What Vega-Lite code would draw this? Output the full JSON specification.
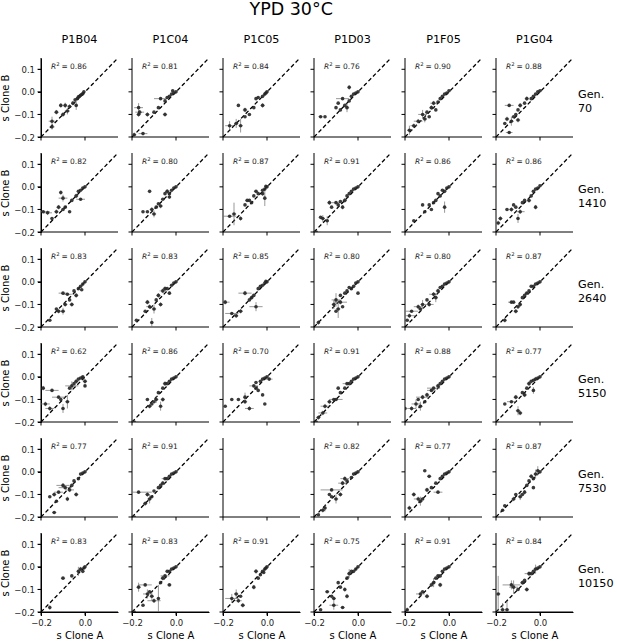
{
"$schema":"https://vega.github.io/schema/vega-lite/v6.json",
"padding":{"left":0,"top":1,"right":0,"bottom":0},
"bounds":"flush",
"title":{"text":"YPD 30°C","fontSize":17.5,"font":"DejaVu Sans","fontWeight":"normal","color":"black","anchor":"middle","offset":15,"dx":-16},
"data":{"values":[
{"c":"P1B04","g":70,"r":0.86},{"c":"P1C04","g":70,"r":0.81},{"c":"P1C05","g":70,"r":0.84},{"c":"P1D03","g":70,"r":0.76},{"c":"P1F05","g":70,"r":0.90},{"c":"P1G04","g":70,"r":0.88},
{"c":"P1B04","g":1410,"r":0.82},{"c":"P1C04","g":1410,"r":0.80},{"c":"P1C05","g":1410,"r":0.87},{"c":"P1D03","g":1410,"r":0.91},{"c":"P1F05","g":1410,"r":0.86},{"c":"P1G04","g":1410,"r":0.86},
{"c":"P1B04","g":2640,"r":0.83},{"c":"P1C04","g":2640,"r":0.83},{"c":"P1C05","g":2640,"r":0.85},{"c":"P1D03","g":2640,"r":0.80},{"c":"P1F05","g":2640,"r":0.80},{"c":"P1G04","g":2640,"r":0.87},
{"c":"P1B04","g":5150,"r":0.62},{"c":"P1C04","g":5150,"r":0.86},{"c":"P1C05","g":5150,"r":0.70},{"c":"P1D03","g":5150,"r":0.91},{"c":"P1F05","g":5150,"r":0.88},{"c":"P1G04","g":5150,"r":0.77},
{"c":"P1B04","g":7530,"r":0.77},{"c":"P1C04","g":7530,"r":0.91},{"c":"P1C05","g":7530},{"c":"P1D03","g":7530,"r":0.82},{"c":"P1F05","g":7530,"r":0.77},{"c":"P1G04","g":7530,"r":0.87},
{"c":"P1B04","g":10150,"r":0.83},{"c":"P1C04","g":10150,"r":0.83},{"c":"P1C05","g":10150,"r":0.91},{"c":"P1D03","g":10150,"r":0.75},{"c":"P1F05","g":10150,"r":0.91},{"c":"P1G04","g":10150,"r":0.84},

{"c":"P1B04","g":70,"a":-0.005,"b":0},{"c":"P1B04","g":70,"a":-0.01,"b":-0.008},{"c":"P1B04","g":70,"a":-0.015,"b":-0.012},{"c":"P1B04","g":70,"a":-0.02,"b":-0.015},{"c":"P1B04","g":70,"a":-0.025,"b":-0.02},{"c":"P1B04","g":70,"a":-0.03,"b":-0.022},{"c":"P1B04","g":70,"a":-0.035,"b":-0.03,"ea":0.006,"eb":0.006},{"c":"P1B04","g":70,"a":-0.045,"b":-0.035},{"c":"P1B04","g":70,"a":-0.055,"b":-0.05,"ea":0.008,"eb":0.01},{"c":"P1B04","g":70,"a":-0.07,"b":-0.065,"ea":0.01,"eb":0.01},{"c":"P1B04","g":70,"a":-0.09,"b":-0.06,"ea":0.01,"eb":0.012},{"c":"P1B04","g":70,"a":-0.11,"b":-0.06,"ea":0.008,"eb":0.01},{"c":"P1B04","g":70,"a":-0.08,"b":-0.085,"ea":0.012,"eb":0.015},{"c":"P1B04","g":70,"a":-0.1,"b":-0.1,"ea":0.01,"eb":0.01},{"c":"P1B04","g":70,"a":-0.13,"b":-0.09,"ea":0.01,"eb":0.01},{"c":"P1B04","g":70,"a":-0.15,"b":-0.13,"ea":0.015,"eb":0.02},{"c":"P1B04","g":70,"a":-0.15,"b":-0.155,"ea":0.012,"eb":0.012},{"c":"P1B04","g":70,"a":-0.04,"b":-0.06,"ea":0.006,"eb":0.02},
{"c":"P1C04","g":70,"a":0,"b":0},{"c":"P1C04","g":70,"a":-0.01,"b":-0.005},{"c":"P1C04","g":70,"a":-0.015,"b":0.005},{"c":"P1C04","g":70,"a":-0.02,"b":-0.01},{"c":"P1C04","g":70,"a":-0.03,"b":-0.02},{"c":"P1C04","g":70,"a":-0.04,"b":-0.025},{"c":"P1C04","g":70,"a":-0.05,"b":-0.04},{"c":"P1C04","g":70,"a":-0.07,"b":-0.03,"ea":0.03,"eb":0.005},{"c":"P1C04","g":70,"a":-0.08,"b":-0.07},{"c":"P1C04","g":70,"a":-0.1,"b":-0.09},{"c":"P1C04","g":70,"a":-0.05,"b":-0.1,"ea":0.01,"eb":0.01},{"c":"P1C04","g":70,"a":-0.17,"b":-0.07,"ea":0.02,"eb":0.02},{"c":"P1C04","g":70,"a":-0.165,"b":-0.09,"ea":0.02,"eb":0.01},{"c":"P1C04","g":70,"a":-0.17,"b":-0.1,"ea":0.01,"eb":0.01},{"c":"P1C04","g":70,"a":-0.13,"b":-0.1,"ea":0.01,"eb":0.01},{"c":"P1C04","g":70,"a":-0.19,"b":-0.19,"ea":0.01,"eb":0.01},{"c":"P1C04","g":70,"a":-0.15,"b":-0.185,"ea":0.02,"eb":0.005},
{"c":"P1C05","g":70,"a":0,"b":0},{"c":"P1C05","g":70,"a":-0.005,"b":-0.005},{"c":"P1C05","g":70,"a":-0.01,"b":-0.01},{"c":"P1C05","g":70,"a":-0.02,"b":-0.02},{"c":"P1C05","g":70,"a":-0.04,"b":-0.025},{"c":"P1C05","g":70,"a":-0.05,"b":-0.03},{"c":"P1C05","g":70,"a":-0.06,"b":-0.07},{"c":"P1C05","g":70,"a":-0.08,"b":-0.1},{"c":"P1C05","g":70,"a":-0.1,"b":-0.11},{"c":"P1C05","g":70,"a":-0.13,"b":-0.06},{"c":"P1C05","g":70,"a":-0.17,"b":-0.15,"ea":0.02,"eb":0.02},{"c":"P1C05","g":70,"a":-0.14,"b":-0.14,"ea":0.01,"eb":0.02},{"c":"P1C05","g":70,"a":-0.12,"b":-0.15,"ea":0.01,"eb":0.03},{"c":"P1C05","g":70,"a":-0.02,"b":-0.06,"ea":0.01,"eb":0.01},{"c":"P1C05","g":70,"a":-0.1,"b":-0.08,"ea":0.01,"eb":0.01},
{"c":"P1D03","g":70,"a":0,"b":0},{"c":"P1D03","g":70,"a":-0.01,"b":-0.005},{"c":"P1D03","g":70,"a":-0.02,"b":-0.01},{"c":"P1D03","g":70,"a":-0.03,"b":-0.02},{"c":"P1D03","g":70,"a":-0.04,"b":-0.04},{"c":"P1D03","g":70,"a":-0.04,"b":0.02,"ea":0.005,"eb":0.01},{"c":"P1D03","g":70,"a":-0.17,"b":-0.11,"ea":0.01,"eb":0.005},{"c":"P1D03","g":70,"a":-0.15,"b":-0.11},{"c":"P1D03","g":70,"a":-0.1,"b":-0.07},{"c":"P1D03","g":70,"a":-0.08,"b":-0.08},{"c":"P1D03","g":70,"a":-0.06,"b":-0.06},{"c":"P1D03","g":70,"a":-0.07,"b":-0.03,"ea":0.03,"eb":0.005},{"c":"P1D03","g":70,"a":-0.05,"b":-0.07,"ea":0.01,"eb":0.02},{"c":"P1D03","g":70,"a":-0.09,"b":-0.05},
{"c":"P1F05","g":70,"a":0,"b":0.005},{"c":"P1F05","g":70,"a":-0.01,"b":-0.005},{"c":"P1F05","g":70,"a":-0.02,"b":-0.01},{"c":"P1F05","g":70,"a":-0.03,"b":-0.02},{"c":"P1F05","g":70,"a":-0.04,"b":-0.03},{"c":"P1F05","g":70,"a":-0.05,"b":-0.045},{"c":"P1F05","g":70,"a":-0.06,"b":-0.08},{"c":"P1F05","g":70,"a":-0.07,"b":-0.05,"ea":0.015,"eb":0.01},{"c":"P1F05","g":70,"a":-0.08,"b":-0.07,"ea":0.01,"eb":0.01},{"c":"P1F05","g":70,"a":-0.09,"b":-0.11},{"c":"P1F05","g":70,"a":-0.1,"b":-0.09},{"c":"P1F05","g":70,"a":-0.11,"b":-0.12,"ea":0.01,"eb":0.015},{"c":"P1F05","g":70,"a":-0.12,"b":-0.1,"ea":0.02,"eb":0.02},{"c":"P1F05","g":70,"a":-0.14,"b":-0.13,"ea":0.02,"eb":0.01},{"c":"P1F05","g":70,"a":-0.16,"b":-0.15,"ea":0.015,"eb":0.01},{"c":"P1F05","g":70,"a":-0.18,"b":-0.17,"ea":0.01,"eb":0.02},
{"c":"P1G04","g":70,"a":0,"b":0.005},{"c":"P1G04","g":70,"a":-0.01,"b":0},{"c":"P1G04","g":70,"a":-0.02,"b":-0.01},{"c":"P1G04","g":70,"a":-0.03,"b":-0.02},{"c":"P1G04","g":70,"a":-0.04,"b":-0.03},{"c":"P1G04","g":70,"a":-0.06,"b":-0.03,"ea":0.01,"eb":0.01},{"c":"P1G04","g":70,"a":-0.07,"b":-0.05},{"c":"P1G04","g":70,"a":-0.09,"b":-0.06,"ea":0.01,"eb":0.01},{"c":"P1G04","g":70,"a":-0.1,"b":-0.08},{"c":"P1G04","g":70,"a":-0.11,"b":-0.1},{"c":"P1G04","g":70,"a":-0.12,"b":-0.11},{"c":"P1G04","g":70,"a":-0.1,"b":-0.125,"ea":0.01,"eb":0.01},{"c":"P1G04","g":70,"a":-0.14,"b":-0.06,"ea":0.02,"eb":0.005},{"c":"P1G04","g":70,"a":-0.15,"b":-0.12,"ea":0.01,"eb":0.01},{"c":"P1G04","g":70,"a":-0.13,"b":-0.13,"ea":0.01,"eb":0.02},{"c":"P1G04","g":70,"a":-0.16,"b":-0.14},{"c":"P1G04","g":70,"a":-0.14,"b":-0.18,"ea":0.015,"eb":0.005},

{"c":"P1B04","g":1410,"a":0,"b":0},{"c":"P1B04","g":1410,"a":-0.01,"b":-0.005},{"c":"P1B04","g":1410,"a":-0.02,"b":-0.015},{"c":"P1B04","g":1410,"a":-0.03,"b":-0.02},{"c":"P1B04","g":1410,"a":-0.04,"b":-0.04,"ea":0.01,"eb":0.01},{"c":"P1B04","g":1410,"a":-0.02,"b":-0.055,"ea":0.02,"eb":0.005},{"c":"P1B04","g":1410,"a":-0.06,"b":-0.06},{"c":"P1B04","g":1410,"a":-0.07,"b":-0.11},{"c":"P1B04","g":1410,"a":-0.09,"b":-0.09},{"c":"P1B04","g":1410,"a":-0.1,"b":-0.1},{"c":"P1B04","g":1410,"a":-0.1,"b":-0.05,"ea":0.02,"eb":0.015},{"c":"P1B04","g":1410,"a":-0.11,"b":-0.025,"ea":0.003,"eb":0.01},{"c":"P1B04","g":1410,"a":-0.12,"b":-0.09,"ea":0.01,"eb":0.01},{"c":"P1B04","g":1410,"a":-0.13,"b":-0.11,"ea":0.01,"eb":0.01},{"c":"P1B04","g":1410,"a":-0.15,"b":-0.14},{"c":"P1B04","g":1410,"a":-0.17,"b":-0.115,"ea":0.02,"eb":0.01},{"c":"P1B04","g":1410,"a":-0.19,"b":-0.11,"ea":0.03,"eb":0.005},
{"c":"P1C04","g":1410,"a":0,"b":0},{"c":"P1C04","g":1410,"a":-0.01,"b":-0.005},{"c":"P1C04","g":1410,"a":-0.02,"b":-0.015},{"c":"P1C04","g":1410,"a":-0.03,"b":-0.03},{"c":"P1C04","g":1410,"a":-0.04,"b":-0.02,"ea":0.01,"eb":0.01},{"c":"P1C04","g":1410,"a":-0.03,"b":-0.045,"ea":0.008,"eb":0.008},{"c":"P1C04","g":1410,"a":-0.05,"b":-0.03},{"c":"P1C04","g":1410,"a":-0.06,"b":-0.055},{"c":"P1C04","g":1410,"a":-0.07,"b":-0.085,"ea":0.01,"eb":0.01},{"c":"P1C04","g":1410,"a":-0.08,"b":-0.075},{"c":"P1C04","g":1410,"a":-0.09,"b":-0.09},{"c":"P1C04","g":1410,"a":-0.12,"b":-0.02},{"c":"P1C04","g":1410,"a":-0.1,"b":-0.12,"ea":0.01,"eb":0.015},{"c":"P1C04","g":1410,"a":-0.11,"b":-0.1,"ea":0.01,"eb":0.01},{"c":"P1C04","g":1410,"a":-0.13,"b":-0.11},{"c":"P1C04","g":1410,"a":-0.15,"b":-0.11},
{"c":"P1C05","g":1410,"a":0,"b":0},{"c":"P1C05","g":1410,"a":-0.005,"b":0.003},{"c":"P1C05","g":1410,"a":-0.01,"b":-0.01},{"c":"P1C05","g":1410,"a":-0.02,"b":-0.015},{"c":"P1C05","g":1410,"a":-0.02,"b":-0.03,"ea":0.005,"eb":0.01},{"c":"P1C05","g":1410,"a":-0.01,"b":-0.05,"ea":0.003,"eb":0.035},{"c":"P1C05","g":1410,"a":-0.04,"b":-0.03},{"c":"P1C05","g":1410,"a":-0.05,"b":-0.02,"ea":0.01,"eb":0.005},{"c":"P1C05","g":1410,"a":-0.06,"b":-0.04},{"c":"P1C05","g":1410,"a":-0.07,"b":-0.07},{"c":"P1C05","g":1410,"a":-0.08,"b":-0.06},{"c":"P1C05","g":1410,"a":-0.09,"b":-0.06,"ea":0.01,"eb":0.005},{"c":"P1C05","g":1410,"a":-0.1,"b":-0.08},{"c":"P1C05","g":1410,"a":-0.12,"b":-0.14,"ea":0.005,"eb":0.01},{"c":"P1C05","g":1410,"a":-0.15,"b":-0.12,"ea":0.01,"eb":0.05},{"c":"P1C05","g":1410,"a":-0.17,"b":-0.13,"ea":0.03,"eb":0.005},
{"c":"P1D03","g":1410,"a":0,"b":0},{"c":"P1D03","g":1410,"a":-0.01,"b":-0.005},{"c":"P1D03","g":1410,"a":-0.02,"b":-0.01},{"c":"P1D03","g":1410,"a":-0.03,"b":-0.02},{"c":"P1D03","g":1410,"a":-0.04,"b":-0.03},{"c":"P1D03","g":1410,"a":-0.05,"b":-0.04},{"c":"P1D03","g":1410,"a":-0.06,"b":-0.06,"ea":0.01,"eb":0.01},{"c":"P1D03","g":1410,"a":-0.07,"b":-0.09,"ea":0.005,"eb":0.01},{"c":"P1D03","g":1410,"a":-0.08,"b":-0.065},{"c":"P1D03","g":1410,"a":-0.09,"b":-0.08},{"c":"P1D03","g":1410,"a":-0.1,"b":-0.07,"ea":0.02,"eb":0.005},{"c":"P1D03","g":1410,"a":-0.13,"b":-0.07,"ea":0.01,"eb":0.01},{"c":"P1D03","g":1410,"a":-0.12,"b":-0.09},{"c":"P1D03","g":1410,"a":-0.14,"b":-0.15,"ea":0.005,"eb":0.02},{"c":"P1D03","g":1410,"a":-0.17,"b":-0.135},{"c":"P1D03","g":1410,"a":-0.16,"b":-0.14,"ea":0.01,"eb":0.015},{"c":"P1D03","g":1410,"a":-0.19,"b":-0.2,"ea":0.02,"eb":0.005},
{"c":"P1F05","g":1410,"a":0,"b":0},{"c":"P1F05","g":1410,"a":-0.01,"b":-0.005},{"c":"P1F05","g":1410,"a":-0.02,"b":-0.02},{"c":"P1F05","g":1410,"a":-0.03,"b":-0.015},{"c":"P1F05","g":1410,"a":-0.04,"b":-0.04,"ea":0.005,"eb":0.005},{"c":"P1F05","g":1410,"a":-0.05,"b":-0.03},{"c":"P1F05","g":1410,"a":-0.06,"b":-0.06},{"c":"P1F05","g":1410,"a":-0.07,"b":-0.07},{"c":"P1F05","g":1410,"a":-0.02,"b":-0.09,"ea":0.003,"eb":0.025},{"c":"P1F05","g":1410,"a":-0.08,"b":-0.1},{"c":"P1F05","g":1410,"a":-0.09,"b":-0.08},{"c":"P1F05","g":1410,"a":-0.11,"b":-0.11},{"c":"P1F05","g":1410,"a":-0.12,"b":-0.08},{"c":"P1F05","g":1410,"a":-0.16,"b":-0.15},
{"c":"P1G04","g":1410,"a":0,"b":0.005},{"c":"P1G04","g":1410,"a":-0.01,"b":-0.005},{"c":"P1G04","g":1410,"a":-0.02,"b":-0.01},{"c":"P1G04","g":1410,"a":-0.03,"b":-0.02},{"c":"P1G04","g":1410,"a":-0.04,"b":-0.04},{"c":"P1G04","g":1410,"a":-0.05,"b":-0.06,"ea":0.01,"eb":0.01},{"c":"P1G04","g":1410,"a":-0.02,"b":-0.09,"ea":0.005,"eb":0.01},{"c":"P1G04","g":1410,"a":-0.07,"b":-0.06},{"c":"P1G04","g":1410,"a":-0.08,"b":-0.07},{"c":"P1G04","g":1410,"a":-0.09,"b":-0.11,"ea":0.02,"eb":0.01},{"c":"P1G04","g":1410,"a":-0.1,"b":-0.14,"ea":0.005,"eb":0.02},{"c":"P1G04","g":1410,"a":-0.11,"b":-0.09},{"c":"P1G04","g":1410,"a":-0.12,"b":-0.08},{"c":"P1G04","g":1410,"a":-0.13,"b":-0.1,"ea":0.01,"eb":0.01},{"c":"P1G04","g":1410,"a":-0.15,"b":-0.1},{"c":"P1G04","g":1410,"a":-0.18,"b":-0.14,"ea":0.01,"eb":0.01},{"c":"P1G04","g":1410,"a":-0.19,"b":-0.16,"ea":0.01,"eb":0.01},

{"c":"P1B04","g":2640,"a":0,"b":0},{"c":"P1B04","g":2640,"a":-0.01,"b":-0.01},{"c":"P1B04","g":2640,"a":-0.02,"b":-0.02},{"c":"P1B04","g":2640,"a":-0.015,"b":-0.035},{"c":"P1B04","g":2640,"a":-0.03,"b":-0.03},{"c":"P1B04","g":2640,"a":-0.04,"b":-0.06,"ea":0.01,"eb":0.01},{"c":"P1B04","g":2640,"a":-0.05,"b":-0.04},{"c":"P1B04","g":2640,"a":-0.07,"b":-0.08},{"c":"P1B04","g":2640,"a":-0.06,"b":-0.1,"ea":0.01,"eb":0.01},{"c":"P1B04","g":2640,"a":-0.08,"b":-0.055,"ea":0.02,"eb":0.005},{"c":"P1B04","g":2640,"a":-0.1,"b":-0.05,"ea":0.02,"eb":0.005},{"c":"P1B04","g":2640,"a":-0.09,"b":-0.1,"ea":0.01,"eb":0.01},{"c":"P1B04","g":2640,"a":-0.1,"b":-0.13,"ea":0.01,"eb":0.015},{"c":"P1B04","g":2640,"a":-0.12,"b":-0.13,"ea":0.01,"eb":0.01},{"c":"P1B04","g":2640,"a":-0.13,"b":-0.12},{"c":"P1B04","g":2640,"a":-0.16,"b":-0.17},
{"c":"P1C04","g":2640,"a":0,"b":0},{"c":"P1C04","g":2640,"a":-0.01,"b":-0.005},{"c":"P1C04","g":2640,"a":-0.02,"b":-0.015},{"c":"P1C04","g":2640,"a":-0.03,"b":-0.05,"ea":0.008,"eb":0.008},{"c":"P1C04","g":2640,"a":-0.04,"b":-0.03},{"c":"P1C04","g":2640,"a":-0.05,"b":-0.03,"ea":0.01,"eb":0.01},{"c":"P1C04","g":2640,"a":-0.06,"b":-0.04,"ea":0.015,"eb":0.01},{"c":"P1C04","g":2640,"a":-0.08,"b":-0.06,"ea":0.01,"eb":0.01},{"c":"P1C04","g":2640,"a":-0.09,"b":-0.08},{"c":"P1C04","g":2640,"a":-0.07,"b":-0.1,"ea":0.01,"eb":0.01},{"c":"P1C04","g":2640,"a":-0.1,"b":-0.12,"ea":0.01,"eb":0.02},{"c":"P1C04","g":2640,"a":-0.12,"b":-0.11,"ea":0.015,"eb":0.01},{"c":"P1C04","g":2640,"a":-0.13,"b":-0.09,"ea":0.01,"eb":0.01},{"c":"P1C04","g":2640,"a":-0.14,"b":-0.13},{"c":"P1C04","g":2640,"a":-0.11,"b":-0.18,"ea":0.002,"eb":0.02},{"c":"P1C04","g":2640,"a":-0.18,"b":-0.17},
{"c":"P1C05","g":2640,"a":0,"b":0},{"c":"P1C05","g":2640,"a":-0.005,"b":0.003},{"c":"P1C05","g":2640,"a":-0.01,"b":-0.005},{"c":"P1C05","g":2640,"a":-0.02,"b":-0.015},{"c":"P1C05","g":2640,"a":-0.03,"b":-0.02},{"c":"P1C05","g":2640,"a":-0.04,"b":-0.03},{"c":"P1C05","g":2640,"a":-0.06,"b":-0.06},{"c":"P1C05","g":2640,"a":-0.07,"b":-0.07,"ea":0.01,"eb":0.01},{"c":"P1C05","g":2640,"a":-0.08,"b":-0.08},{"c":"P1C05","g":2640,"a":-0.1,"b":-0.05,"ea":0.03,"eb":0.01},{"c":"P1C05","g":2640,"a":-0.05,"b":-0.11,"ea":0.03,"eb":0.02},{"c":"P1C05","g":2640,"a":-0.12,"b":-0.13,"ea":0.01,"eb":0.01},{"c":"P1C05","g":2640,"a":-0.14,"b":-0.15,"ea":0.01,"eb":0.01},{"c":"P1C05","g":2640,"a":-0.16,"b":-0.14,"ea":0.03,"eb":0.005},{"c":"P1C05","g":2640,"a":-0.19,"b":-0.09,"ea":0.02,"eb":0.01},
{"c":"P1D03","g":2640,"a":0,"b":0},{"c":"P1D03","g":2640,"a":-0.01,"b":-0.005},{"c":"P1D03","g":2640,"a":-0.02,"b":-0.02},{"c":"P1D03","g":2640,"a":-0.03,"b":-0.03},{"c":"P1D03","g":2640,"a":-0.04,"b":-0.025},{"c":"P1D03","g":2640,"a":-0.05,"b":-0.04},{"c":"P1D03","g":2640,"a":-0.06,"b":-0.05},{"c":"P1D03","g":2640,"a":0,"b":-0.05},{"c":"P1D03","g":2640,"a":-0.08,"b":-0.06},{"c":"P1D03","g":2640,"a":-0.07,"b":-0.11},{"c":"P1D03","g":2640,"a":-0.1,"b":-0.08,"ea":0.02,"eb":0.03},{"c":"P1D03","g":2640,"a":-0.11,"b":-0.1,"ea":0.01,"eb":0.02},{"c":"P1D03","g":2640,"a":-0.08,"b":-0.09,"ea":0.03,"eb":0.01},{"c":"P1D03","g":2640,"a":-0.09,"b":-0.12,"ea":0.01,"eb":0.04},{"c":"P1D03","g":2640,"a":-0.1,"b":-0.13},{"c":"P1D03","g":2640,"a":-0.18,"b":-0.18,"ea":0.005,"eb":0.01},
{"c":"P1F05","g":2640,"a":0,"b":0},{"c":"P1F05","g":2640,"a":-0.01,"b":-0.005},{"c":"P1F05","g":2640,"a":-0.02,"b":-0.01},{"c":"P1F05","g":2640,"a":-0.03,"b":-0.02},{"c":"P1F05","g":2640,"a":-0.04,"b":-0.025},{"c":"P1F05","g":2640,"a":-0.05,"b":-0.04,"ea":0.01,"eb":0.01},{"c":"P1F05","g":2640,"a":-0.06,"b":-0.07,"ea":0.01,"eb":0.02},{"c":"P1F05","g":2640,"a":-0.07,"b":-0.055,"ea":0.02,"eb":0.01},{"c":"P1F05","g":2640,"a":-0.09,"b":-0.1,"ea":0.02,"eb":0.01},{"c":"P1F05","g":2640,"a":-0.1,"b":-0.08},{"c":"P1F05","g":2640,"a":-0.12,"b":-0.1,"ea":0.01,"eb":0.02},{"c":"P1F05","g":2640,"a":-0.13,"b":-0.12,"ea":0.01,"eb":0.01},{"c":"P1F05","g":2640,"a":-0.14,"b":-0.11,"ea":0.02,"eb":0.01},{"c":"P1F05","g":2640,"a":-0.17,"b":-0.13,"ea":0.03,"eb":0.005},{"c":"P1F05","g":2640,"a":-0.18,"b":-0.15,"ea":0.03,"eb":0.01},{"c":"P1F05","g":2640,"a":-0.19,"b":-0.17},
{"c":"P1G04","g":2640,"a":0,"b":0},{"c":"P1G04","g":2640,"a":-0.01,"b":-0.005},{"c":"P1G04","g":2640,"a":-0.02,"b":-0.01},{"c":"P1G04","g":2640,"a":-0.03,"b":-0.02},{"c":"P1G04","g":2640,"a":-0.04,"b":-0.02},{"c":"P1G04","g":2640,"a":-0.05,"b":-0.04},{"c":"P1G04","g":2640,"a":-0.06,"b":-0.05,"ea":0.01,"eb":0.005},{"c":"P1G04","g":2640,"a":-0.07,"b":-0.06},{"c":"P1G04","g":2640,"a":-0.08,"b":-0.07},{"c":"P1G04","g":2640,"a":-0.09,"b":-0.1,"ea":0.005,"eb":0.01},{"c":"P1G04","g":2640,"a":-0.1,"b":-0.11,"ea":0.01,"eb":0.01},{"c":"P1G04","g":2640,"a":-0.11,"b":-0.13,"ea":0.01,"eb":0.01},{"c":"P1G04","g":2640,"a":-0.12,"b":-0.09},{"c":"P1G04","g":2640,"a":-0.13,"b":-0.09,"ea":0.015,"eb":0.005},{"c":"P1G04","g":2640,"a":-0.16,"b":-0.17,"ea":0.005,"eb":0.01},

{"c":"P1B04","g":5150,"a":0,"b":-0.02,"ea":0.01,"eb":0.01},{"c":"P1B04","g":5150,"a":-0.01,"b":0},{"c":"P1B04","g":5150,"a":-0.01,"b":-0.005},{"c":"P1B04","g":5150,"a":-0.02,"b":-0.005},{"c":"P1B04","g":5150,"a":-0.03,"b":-0.01},{"c":"P1B04","g":5150,"a":-0.04,"b":-0.02,"ea":0.01,"eb":0.01},{"c":"P1B04","g":5150,"a":-0.05,"b":-0.03},{"c":"P1B04","g":5150,"a":0,"b":-0.04,"ea":0.003,"eb":0.005},{"c":"P1B04","g":5150,"a":-0.06,"b":-0.04,"ea":0.03,"eb":0.02},{"c":"P1B04","g":5150,"a":-0.07,"b":-0.05},{"c":"P1B04","g":5150,"a":-0.08,"b":-0.11,"ea":0.01,"eb":0.03},{"c":"P1B04","g":5150,"a":-0.1,"b":-0.14,"ea":0.005,"eb":0.02},{"c":"P1B04","g":5150,"a":-0.11,"b":-0.1},{"c":"P1B04","g":5150,"a":-0.12,"b":-0.09,"ea":0.03,"eb":0.005},{"c":"P1B04","g":5150,"a":-0.15,"b":-0.06,"ea":0.03,"eb":0.005},{"c":"P1B04","g":5150,"a":-0.19,"b":-0.05,"ea":0.005,"eb":0.01},{"c":"P1B04","g":5150,"a":-0.18,"b":-0.12,"ea":0.02,"eb":0.01},{"c":"P1B04","g":5150,"a":-0.16,"b":-0.14,"ea":0.02,"eb":0.01},
{"c":"P1C04","g":5150,"a":0,"b":0},{"c":"P1C04","g":5150,"a":-0.01,"b":-0.005},{"c":"P1C04","g":5150,"a":-0.02,"b":-0.01},{"c":"P1C04","g":5150,"a":-0.03,"b":-0.02},{"c":"P1C04","g":5150,"a":-0.04,"b":-0.03},{"c":"P1C04","g":5150,"a":-0.05,"b":-0.03,"ea":0.01,"eb":0.01},{"c":"P1C04","g":5150,"a":-0.06,"b":-0.05},{"c":"P1C04","g":5150,"a":-0.06,"b":-0.1,"ea":0.01,"eb":0.01},{"c":"P1C04","g":5150,"a":-0.08,"b":-0.07},{"c":"P1C04","g":5150,"a":-0.09,"b":-0.1,"ea":0.01,"eb":0.015},{"c":"P1C04","g":5150,"a":-0.1,"b":-0.11},{"c":"P1C04","g":5150,"a":-0.07,"b":-0.13,"ea":0.005,"eb":0.02},{"c":"P1C04","g":5150,"a":-0.11,"b":-0.12},{"c":"P1C04","g":5150,"a":-0.12,"b":-0.13,"ea":0.01,"eb":0.01},{"c":"P1C04","g":5150,"a":-0.13,"b":-0.1},{"c":"P1C04","g":5150,"a":-0.19,"b":-0.2,"ea":0.02,"eb":0.005},
{"c":"P1C05","g":5150,"a":0,"b":0},{"c":"P1C05","g":5150,"a":-0.01,"b":-0.005},{"c":"P1C05","g":5150,"a":-0.02,"b":-0.01},{"c":"P1C05","g":5150,"a":-0.03,"b":-0.02},{"c":"P1C05","g":5150,"a":-0.05,"b":-0.025},{"c":"P1C05","g":5150,"a":0.01,"b":-0.01,"ea":0.015,"eb":0.005},{"c":"P1C05","g":5150,"a":-0.05,"b":-0.05},{"c":"P1C05","g":5150,"a":-0.06,"b":-0.04,"ea":0.02,"eb":0.005},{"c":"P1C05","g":5150,"a":-0.04,"b":-0.06},{"c":"P1C05","g":5150,"a":-0.02,"b":-0.08},{"c":"P1C05","g":5150,"a":-0.01,"b":-0.12},{"c":"P1C05","g":5150,"a":-0.08,"b":-0.14,"ea":0.02,"eb":0.01},{"c":"P1C05","g":5150,"a":-0.1,"b":-0.09,"ea":0.005,"eb":0.02},{"c":"P1C05","g":5150,"a":-0.1,"b":-0.11,"ea":0.01,"eb":0.01},{"c":"P1C05","g":5150,"a":-0.13,"b":-0.1},{"c":"P1C05","g":5150,"a":-0.16,"b":-0.1},{"c":"P1C05","g":5150,"a":-0.19,"b":-0.13},
{"c":"P1D03","g":5150,"a":0,"b":0},{"c":"P1D03","g":5150,"a":-0.01,"b":-0.005},{"c":"P1D03","g":5150,"a":-0.02,"b":-0.01},{"c":"P1D03","g":5150,"a":-0.03,"b":-0.02},{"c":"P1D03","g":5150,"a":-0.04,"b":-0.03},{"c":"P1D03","g":5150,"a":-0.05,"b":-0.03,"ea":0.02,"eb":0.005},{"c":"P1D03","g":5150,"a":-0.06,"b":-0.05},{"c":"P1D03","g":5150,"a":-0.08,"b":-0.07},{"c":"P1D03","g":5150,"a":-0.09,"b":-0.05},{"c":"P1D03","g":5150,"a":-0.1,"b":-0.1,"ea":0.03,"eb":0.005},{"c":"P1D03","g":5150,"a":-0.11,"b":-0.1},{"c":"P1D03","g":5150,"a":-0.13,"b":-0.11,"ea":0.01,"eb":0.01},{"c":"P1D03","g":5150,"a":-0.15,"b":-0.13,"ea":0.02,"eb":0.01},{"c":"P1D03","g":5150,"a":-0.16,"b":-0.16,"ea":0.02,"eb":0.01},{"c":"P1D03","g":5150,"a":-0.18,"b":-0.18,"ea":0.01,"eb":0.01},{"c":"P1D03","g":5150,"a":-0.19,"b":-0.2},
{"c":"P1F05","g":5150,"a":0,"b":0},{"c":"P1F05","g":5150,"a":-0.01,"b":-0.005},{"c":"P1F05","g":5150,"a":-0.02,"b":-0.01},{"c":"P1F05","g":5150,"a":-0.03,"b":-0.02},{"c":"P1F05","g":5150,"a":-0.04,"b":-0.03},{"c":"P1F05","g":5150,"a":-0.05,"b":-0.04,"ea":0.01,"eb":0.01},{"c":"P1F05","g":5150,"a":-0.07,"b":-0.05,"ea":0.03,"eb":0.005},{"c":"P1F05","g":5150,"a":-0.08,"b":-0.06,"ea":0.02,"eb":0.005},{"c":"P1F05","g":5150,"a":-0.1,"b":-0.08,"ea":0.01,"eb":0.01},{"c":"P1F05","g":5150,"a":-0.11,"b":-0.11},{"c":"P1F05","g":5150,"a":-0.12,"b":-0.09,"ea":0.03,"eb":0.01},{"c":"P1F05","g":5150,"a":-0.13,"b":-0.13,"ea":0.01,"eb":0.02},{"c":"P1F05","g":5150,"a":-0.14,"b":-0.1},{"c":"P1F05","g":5150,"a":-0.15,"b":-0.12,"ea":0.02,"eb":0.02},{"c":"P1F05","g":5150,"a":-0.17,"b":-0.14,"ea":0.02,"eb":0.01},{"c":"P1F05","g":5150,"a":-0.2,"b":-0.14,"ea":0.005,"eb":0.01},
{"c":"P1G04","g":5150,"a":0,"b":0},{"c":"P1G04","g":5150,"a":-0.01,"b":-0.005},{"c":"P1G04","g":5150,"a":-0.02,"b":-0.01,"ea":0.01,"eb":0.01},{"c":"P1G04","g":5150,"a":-0.03,"b":-0.015},{"c":"P1G04","g":5150,"a":-0.04,"b":-0.02},{"c":"P1G04","g":5150,"a":-0.03,"b":-0.06,"ea":0.005,"eb":0.015},{"c":"P1G04","g":5150,"a":-0.05,"b":-0.03,"ea":0.01,"eb":0.01},{"c":"P1G04","g":5150,"a":-0.06,"b":-0.05},{"c":"P1G04","g":5150,"a":-0.07,"b":-0.08,"ea":0.01,"eb":0.01},{"c":"P1G04","g":5150,"a":-0.08,"b":-0.07},{"c":"P1G04","g":5150,"a":-0.09,"b":-0.16,"ea":0.01,"eb":0.01},{"c":"P1G04","g":5150,"a":-0.1,"b":-0.15,"ea":0.01,"eb":0.02},{"c":"P1G04","g":5150,"a":-0.11,"b":-0.09,"ea":0.01,"eb":0.01},{"c":"P1G04","g":5150,"a":-0.13,"b":-0.11,"ea":0.02,"eb":0.005},{"c":"P1G04","g":5150,"a":-0.16,"b":-0.12},

{"c":"P1B04","g":7530,"a":0,"b":0},{"c":"P1B04","g":7530,"a":-0.01,"b":-0.005},{"c":"P1B04","g":7530,"a":-0.02,"b":-0.01},{"c":"P1B04","g":7530,"a":-0.03,"b":-0.03},{"c":"P1B04","g":7530,"a":-0.05,"b":-0.04},{"c":"P1B04","g":7530,"a":-0.06,"b":-0.06},{"c":"P1B04","g":7530,"a":-0.04,"b":-0.1,"ea":0.01,"eb":0.01},{"c":"P1B04","g":7530,"a":-0.07,"b":-0.08,"ea":0.02,"eb":0.01},{"c":"P1B04","g":7530,"a":-0.08,"b":-0.12,"ea":0.005,"eb":0.01},{"c":"P1B04","g":7530,"a":-0.09,"b":-0.07,"ea":0.03,"eb":0.005},{"c":"P1B04","g":7530,"a":-0.1,"b":-0.06,"ea":0.03,"eb":0.01},{"c":"P1B04","g":7530,"a":-0.12,"b":-0.09,"ea":0.02,"eb":0.005},{"c":"P1B04","g":7530,"a":-0.13,"b":-0.13},{"c":"P1B04","g":7530,"a":-0.14,"b":-0.1,"ea":0.01,"eb":0.01},{"c":"P1B04","g":7530,"a":-0.16,"b":-0.11},{"c":"P1B04","g":7530,"a":-0.14,"b":-0.18,"ea":0.01,"eb":0.005},
{"c":"P1C04","g":7530,"a":0,"b":0},{"c":"P1C04","g":7530,"a":-0.01,"b":-0.005},{"c":"P1C04","g":7530,"a":-0.02,"b":-0.01},{"c":"P1C04","g":7530,"a":-0.03,"b":-0.02},{"c":"P1C04","g":7530,"a":-0.04,"b":-0.03},{"c":"P1C04","g":7530,"a":-0.05,"b":-0.03,"ea":0.015,"eb":0.005},{"c":"P1C04","g":7530,"a":-0.06,"b":-0.05,"ea":0.01,"eb":0.01},{"c":"P1C04","g":7530,"a":-0.07,"b":-0.06},{"c":"P1C04","g":7530,"a":-0.08,"b":-0.07},{"c":"P1C04","g":7530,"a":-0.1,"b":-0.085},{"c":"P1C04","g":7530,"a":-0.11,"b":-0.11},{"c":"P1C04","g":7530,"a":-0.12,"b":-0.12,"ea":0.01,"eb":0.02},{"c":"P1C04","g":7530,"a":-0.13,"b":-0.1,"ea":0.01,"eb":0.01},{"c":"P1C04","g":7530,"a":-0.14,"b":-0.14,"ea":0.01,"eb":0.01},{"c":"P1C04","g":7530,"a":-0.17,"b":-0.09,"ea":0.06,"eb":0.005},{"c":"P1C04","g":7530,"a":-0.19,"b":-0.2},
{"c":"P1D03","g":7530,"a":0,"b":0},{"c":"P1D03","g":7530,"a":-0.01,"b":-0.005},{"c":"P1D03","g":7530,"a":-0.02,"b":-0.01},{"c":"P1D03","g":7530,"a":-0.03,"b":-0.025},{"c":"P1D03","g":7530,"a":-0.05,"b":-0.04},{"c":"P1D03","g":7530,"a":-0.06,"b":-0.03,"ea":0.02,"eb":0.01},{"c":"P1D03","g":7530,"a":-0.07,"b":-0.05,"ea":0.02,"eb":0.01},{"c":"P1D03","g":7530,"a":-0.08,"b":-0.1,"ea":0.01,"eb":0.01},{"c":"P1D03","g":7530,"a":-0.1,"b":-0.12,"ea":0.01,"eb":0.02},{"c":"P1D03","g":7530,"a":-0.12,"b":-0.11},{"c":"P1D03","g":7530,"a":-0.13,"b":-0.1},{"c":"P1D03","g":7530,"a":-0.12,"b":-0.08,"ea":0.05,"eb":0.005},{"c":"P1D03","g":7530,"a":-0.15,"b":-0.16,"ea":0.005,"eb":0.015},{"c":"P1D03","g":7530,"a":-0.16,"b":-0.17,"ea":0.01,"eb":0.01},{"c":"P1D03","g":7530,"a":-0.18,"b":-0.19},
{"c":"P1F05","g":7530,"a":0,"b":0},{"c":"P1F05","g":7530,"a":-0.01,"b":-0.005},{"c":"P1F05","g":7530,"a":-0.02,"b":-0.01},{"c":"P1F05","g":7530,"a":-0.03,"b":-0.02},{"c":"P1F05","g":7530,"a":-0.04,"b":-0.03},{"c":"P1F05","g":7530,"a":-0.06,"b":-0.05},{"c":"P1F05","g":7530,"a":-0.05,"b":-0.09,"ea":0.02,"eb":0.005},{"c":"P1F05","g":7530,"a":-0.08,"b":-0.07},{"c":"P1F05","g":7530,"a":-0.09,"b":-0.02,"ea":0.01,"eb":0.005},{"c":"P1F05","g":7530,"a":-0.11,"b":0.005},{"c":"P1F05","g":7530,"a":-0.1,"b":-0.08,"ea":0.01,"eb":0.01},{"c":"P1F05","g":7530,"a":-0.12,"b":-0.12},{"c":"P1F05","g":7530,"a":-0.13,"b":-0.13,"ea":0.01,"eb":0.02},{"c":"P1F05","g":7530,"a":-0.14,"b":-0.12,"ea":0.02,"eb":0.01},{"c":"P1F05","g":7530,"a":-0.16,"b":-0.1,"ea":0.01,"eb":0.01},{"c":"P1F05","g":7530,"a":-0.18,"b":-0.16,"ea":0.01,"eb":0.01},
{"c":"P1G04","g":7530,"a":0,"b":0},{"c":"P1G04","g":7530,"a":-0.01,"b":0.005,"ea":0.005,"eb":0.02},{"c":"P1G04","g":7530,"a":-0.02,"b":-0.01,"ea":0.01,"eb":0.02},{"c":"P1G04","g":7530,"a":-0.03,"b":-0.03},{"c":"P1G04","g":7530,"a":-0.04,"b":-0.02,"ea":0.01,"eb":0.01},{"c":"P1G04","g":7530,"a":-0.05,"b":-0.04},{"c":"P1G04","g":7530,"a":-0.03,"b":-0.07},{"c":"P1G04","g":7530,"a":-0.06,"b":-0.06},{"c":"P1G04","g":7530,"a":-0.07,"b":-0.09,"ea":0.005,"eb":0.01},{"c":"P1G04","g":7530,"a":-0.08,"b":-0.1},{"c":"P1G04","g":7530,"a":-0.09,"b":-0.11,"ea":0.01,"eb":0.015},{"c":"P1G04","g":7530,"a":-0.11,"b":-0.1},{"c":"P1G04","g":7530,"a":-0.12,"b":-0.12,"ea":0.01,"eb":0.01},{"c":"P1G04","g":7530,"a":-0.16,"b":-0.15},{"c":"P1G04","g":7530,"a":-0.17,"b":-0.17},

{"c":"P1B04","g":10150,"a":0,"b":0},{"c":"P1B04","g":10150,"a":-0.005,"b":-0.005},{"c":"P1B04","g":10150,"a":-0.01,"b":-0.02},{"c":"P1B04","g":10150,"a":-0.02,"b":-0.01,"ea":0.005,"eb":0.01},{"c":"P1B04","g":10150,"a":-0.03,"b":-0.02,"ea":0.005,"eb":0.02},{"c":"P1B04","g":10150,"a":-0.06,"b":-0.04},{"c":"P1B04","g":10150,"a":-0.1,"b":-0.05,"ea":0.01,"eb":0.005},{"c":"P1B04","g":10150,"a":-0.16,"b":-0.18,"ea":0.003,"eb":0.01},
{"c":"P1C04","g":10150,"a":0,"b":0},{"c":"P1C04","g":10150,"a":-0.01,"b":-0.005},{"c":"P1C04","g":10150,"a":-0.02,"b":-0.01},{"c":"P1C04","g":10150,"a":-0.03,"b":-0.02},{"c":"P1C04","g":10150,"a":-0.04,"b":-0.02},{"c":"P1C04","g":10150,"a":-0.05,"b":-0.04,"ea":0.02,"eb":0.005},{"c":"P1C04","g":10150,"a":-0.06,"b":-0.05,"ea":0.01,"eb":0.01},{"c":"P1C04","g":10150,"a":-0.03,"b":-0.08,"ea":0.01,"eb":0.005},{"c":"P1C04","g":10150,"a":-0.07,"b":-0.07},{"c":"P1C04","g":10150,"a":-0.08,"b":-0.14,"ea":0.005,"eb":0.06},{"c":"P1C04","g":10150,"a":-0.1,"b":-0.15,"ea":0.03,"eb":0.01},{"c":"P1C04","g":10150,"a":-0.11,"b":-0.13,"ea":0.01,"eb":0.02},{"c":"P1C04","g":10150,"a":-0.12,"b":-0.11},{"c":"P1C04","g":10150,"a":-0.13,"b":-0.12,"ea":0.02,"eb":0.02},{"c":"P1C04","g":10150,"a":-0.14,"b":-0.08,"ea":0.03,"eb":0.005},{"c":"P1C04","g":10150,"a":-0.17,"b":-0.09,"ea":0.01,"eb":0.02},{"c":"P1C04","g":10150,"a":-0.15,"b":-0.17},{"c":"P1C04","g":10150,"a":-0.19,"b":-0.2},
{"c":"P1C05","g":10150,"a":0,"b":0},{"c":"P1C05","g":10150,"a":-0.005,"b":-0.005},{"c":"P1C05","g":10150,"a":-0.01,"b":-0.01},{"c":"P1C05","g":10150,"a":-0.015,"b":-0.025},{"c":"P1C05","g":10150,"a":-0.02,"b":-0.02},{"c":"P1C05","g":10150,"a":-0.03,"b":-0.035},{"c":"P1C05","g":10150,"a":-0.04,"b":-0.05},{"c":"P1C05","g":10150,"a":-0.05,"b":-0.02,"ea":0.01,"eb":0.01},{"c":"P1C05","g":10150,"a":-0.06,"b":-0.09,"ea":0.005,"eb":0.01},{"c":"P1C05","g":10150,"a":-0.11,"b":-0.17,"ea":0.01,"eb":0.01},{"c":"P1C05","g":10150,"a":-0.12,"b":-0.13},{"c":"P1C05","g":10150,"a":-0.13,"b":-0.15,"ea":0.015,"eb":0.01},{"c":"P1C05","g":10150,"a":-0.14,"b":-0.12,"ea":0.01,"eb":0.02},{"c":"P1C05","g":10150,"a":-0.16,"b":-0.14,"ea":0.03,"eb":0.02},
{"c":"P1D03","g":10150,"a":0,"b":0},{"c":"P1D03","g":10150,"a":-0.01,"b":-0.01},{"c":"P1D03","g":10150,"a":-0.02,"b":-0.02},{"c":"P1D03","g":10150,"a":-0.03,"b":-0.02},{"c":"P1D03","g":10150,"a":-0.04,"b":-0.03,"ea":0.01,"eb":0.02},{"c":"P1D03","g":10150,"a":-0.05,"b":-0.05},{"c":"P1D03","g":10150,"a":-0.05,"b":-0.13,"ea":0.005,"eb":0.01},{"c":"P1D03","g":10150,"a":-0.06,"b":-0.1,"ea":0.005,"eb":0.01},{"c":"P1D03","g":10150,"a":-0.08,"b":-0.09},{"c":"P1D03","g":10150,"a":-0.09,"b":-0.07},{"c":"P1D03","g":10150,"a":-0.07,"b":-0.18,"ea":0.01,"eb":0.005},{"c":"P1D03","g":10150,"a":-0.11,"b":-0.17,"ea":0.02,"eb":0.02},{"c":"P1D03","g":10150,"a":-0.11,"b":-0.14,"ea":0.01,"eb":0.01},{"c":"P1D03","g":10150,"a":-0.12,"b":-0.13},{"c":"P1D03","g":10150,"a":-0.14,"b":-0.11,"ea":0.01,"eb":0.005},{"c":"P1D03","g":10150,"a":-0.17,"b":-0.19},
{"c":"P1F05","g":10150,"a":0,"b":0},{"c":"P1F05","g":10150,"a":-0.01,"b":-0.005},{"c":"P1F05","g":10150,"a":-0.02,"b":-0.01},{"c":"P1F05","g":10150,"a":-0.03,"b":-0.02},{"c":"P1F05","g":10150,"a":-0.04,"b":-0.04},{"c":"P1F05","g":10150,"a":-0.04,"b":-0.08,"ea":0.01,"eb":0.01},{"c":"P1F05","g":10150,"a":-0.05,"b":-0.04,"ea":0.01,"eb":0.005},{"c":"P1F05","g":10150,"a":-0.06,"b":-0.05},{"c":"P1F05","g":10150,"a":-0.07,"b":-0.07,"ea":0.01,"eb":0.02},{"c":"P1F05","g":10150,"a":-0.08,"b":-0.08},{"c":"P1F05","g":10150,"a":-0.1,"b":-0.13,"ea":0.01,"eb":0.01},{"c":"P1F05","g":10150,"a":-0.12,"b":-0.11},{"c":"P1F05","g":10150,"a":-0.13,"b":-0.12,"ea":0.02,"eb":0.01},{"c":"P1F05","g":10150,"a":-0.19,"b":-0.19,"ea":0.005,"eb":0.01},
{"c":"P1G04","g":10150,"a":0,"b":0},{"c":"P1G04","g":10150,"a":-0.01,"b":-0.005},{"c":"P1G04","g":10150,"a":-0.02,"b":-0.01,"ea":0.01,"eb":0.02},{"c":"P1G04","g":10150,"a":-0.03,"b":-0.02},{"c":"P1G04","g":10150,"a":-0.04,"b":-0.03},{"c":"P1G04","g":10150,"a":-0.05,"b":-0.03,"ea":0.02,"eb":0.01},{"c":"P1G04","g":10150,"a":-0.06,"b":-0.1,"ea":0.01,"eb":0.01},{"c":"P1G04","g":10150,"a":-0.07,"b":-0.06},{"c":"P1G04","g":10150,"a":-0.08,"b":-0.07,"ea":0.01,"eb":0.01},{"c":"P1G04","g":10150,"a":-0.1,"b":-0.1},{"c":"P1G04","g":10150,"a":-0.12,"b":-0.09,"ea":0.02,"eb":0.03},{"c":"P1G04","g":10150,"a":-0.13,"b":-0.08,"ea":0.04,"eb":0.02},{"c":"P1G04","g":10150,"a":-0.15,"b":-0.19,"ea":0.01,"eb":0.04},{"c":"P1G04","g":10150,"a":-0.17,"b":-0.19,"ea":0.01,"eb":0.03},{"c":"P1G04","g":10150,"a":-0.19,"b":-0.12,"ea":0.01,"eb":0.08}
]},
"spacing":{"row":16,"column":14},
"facet":{
"column":{"field":"c","type":"nominal","header":{"title":null,"labelFontSize":11.2,"labelFont":"DejaVu Sans","labelColor":"black","labelPadding":13}},
"row":{"field":"g","type":"ordinal","header":{"title":null,"labels":false}}
},
"spec":{
"width":77,"height":79,
"layer":[
{"transform":[{"filter":"datum.a == null"}],"mark":{"type":"rule","color":"black","strokeWidth":1},
 "encoding":{"x":{"datum":-0.2,"type":"quantitative","scale":{"domain":[-0.2,0.15],"nice":false,"zero":false},"title":"s Clone A","axis":{"tickCount":2,"format":".1f","labelOverlap":false,"labelFlush":false}},"y":{"datum":-0.2,"type":"quantitative","scale":{"domain":[-0.2,0.15],"nice":false,"zero":false},"title":"s Clone B","axis":{"tickCount":4,"format":".1f","labelOverlap":false,"labelFlush":false}},"y2":{"datum":0.15}}},
{"transform":[{"filter":"datum.a == null"}],"mark":{"type":"rule","color":"black","strokeWidth":1},
 "encoding":{"x":{"datum":-0.2,"type":"quantitative"},"x2":{"datum":0.15},"y":{"datum":-0.2,"type":"quantitative"}}},
{"transform":[{"filter":"datum.a == null"}],"mark":{"type":"rule","color":"black","x2Offset":-3.5},
 "encoding":{"x":{"datum":-0.2,"type":"quantitative"},"x2":{"datum":-0.2},"y":{"datum":0.1,"type":"quantitative"}}},
{"transform":[{"filter":"datum.a == null"}],"mark":{"type":"rule","color":"black","x2Offset":-3.5},
 "encoding":{"x":{"datum":-0.2,"type":"quantitative"},"x2":{"datum":-0.2},"y":{"datum":0,"type":"quantitative"}}},
{"transform":[{"filter":"datum.a == null"}],"mark":{"type":"rule","color":"black","x2Offset":-3.5},
 "encoding":{"x":{"datum":-0.2,"type":"quantitative"},"x2":{"datum":-0.2},"y":{"datum":-0.1,"type":"quantitative"}}},
{"transform":[{"filter":"datum.a == null"}],"mark":{"type":"rule","color":"black","x2Offset":-3.5},
 "encoding":{"x":{"datum":-0.2,"type":"quantitative"},"x2":{"datum":-0.2},"y":{"datum":-0.2,"type":"quantitative"}}},
{"transform":[{"filter":"datum.a == null"}],"mark":{"type":"rule","color":"black","y2Offset":3.5},
 "encoding":{"y":{"datum":-0.2,"type":"quantitative"},"y2":{"datum":-0.2},"x":{"datum":-0.2,"type":"quantitative"}}},
{"transform":[{"filter":"datum.a == null"}],"mark":{"type":"rule","color":"black","y2Offset":3.5},
 "encoding":{"y":{"datum":-0.2,"type":"quantitative"},"y2":{"datum":-0.2},"x":{"datum":0,"type":"quantitative"}}},
{"transform":[{"filter":"datum.r != null"}],"mark":{"type":"rule","strokeDash":[4,2.5],"color":"black","strokeWidth":1.3},
 "encoding":{"x":{"datum":-0.2,"type":"quantitative"},"y":{"datum":-0.2,"type":"quantitative"},"x2":{"datum":0.15},"y2":{"datum":0.15}}},
{"transform":[{"filter":"datum.ea != null"}],"mark":{"type":"errorbar","color":"#6e6e6e","opacity":0.7,"thickness":1,"clip":true},
 "encoding":{"x":{"field":"a","type":"quantitative","title":"s Clone A"},"xError":{"field":"ea"},"y":{"field":"b","type":"quantitative","title":"s Clone B"}}},
{"transform":[{"filter":"datum.eb != null"}],"mark":{"type":"errorbar","color":"#6e6e6e","opacity":0.7,"thickness":1,"clip":true},
 "encoding":{"y":{"field":"b","type":"quantitative","title":"s Clone B"},"yError":{"field":"eb"},"x":{"field":"a","type":"quantitative","title":"s Clone A"}}},
{"transform":[{"filter":"datum.a != null"}],"mark":{"type":"circle","size":13,"color":"#262626","opacity":0.9,"clip":true},
 "encoding":{"x":{"field":"a","type":"quantitative","title":"s Clone A"},"y":{"field":"b","type":"quantitative","title":"s Clone B"}}},
{"transform":[{"filter":"datum.r != null"}],"mark":{"type":"text","text":"R","fontStyle":"italic","align":"left","baseline":"middle","fontSize":7.5,"font":"DejaVu Sans","color":"#222"},
 "encoding":{"x":{"datum":-0.155,"type":"quantitative"},"y":{"datum":0.11,"type":"quantitative"}}},
{"transform":[{"filter":"datum.r != null"}],"mark":{"type":"text","text":"2","align":"left","baseline":"middle","fontSize":5.3,"font":"DejaVu Sans","color":"#222","dx":5.3,"dy":-3},
 "encoding":{"x":{"datum":-0.155,"type":"quantitative"},"y":{"datum":0.11,"type":"quantitative"}}},
{"transform":[{"filter":"datum.r != null"},{"calculate":"'= ' + format(datum.r, '.2f')","as":"lab"}],"mark":{"type":"text","align":"left","baseline":"middle","fontSize":7.5,"font":"DejaVu Sans","color":"#222","dx":10.5},
 "encoding":{"x":{"datum":-0.155,"type":"quantitative"},"y":{"datum":0.11,"type":"quantitative"},"text":{"field":"lab"}}},
{"transform":[{"filter":"datum.a == null && datum.c == 'P1G04'"},{"calculate":"['Gen.', '' + datum.g]","as":"gl"}],"mark":{"type":"text","align":"left","baseline":"middle","fontSize":11.2,"font":"DejaVu Sans","color":"black","lineHeight":14,"dx":5,"dy":-3,"clip":false},
 "encoding":{"x":{"datum":0.15,"type":"quantitative"},"y":{"datum":-0.025,"type":"quantitative"},"text":{"field":"gl"}}}
]},
"config":{
"font":"DejaVu Sans",
"view":{"stroke":null},
"axis":{"grid":false,"domainColor":"black","tickColor":"black","tickSize":3.5,"labelFontSize":8.5,"labelColor":"#222","labelFont":"DejaVu Sans","labelPadding":3,"labelOverlap":false,"titleFont":"DejaVu Sans","titleFontSize":10,"titleFontWeight":"normal","titleColor":"black","titlePadding":3},
"header":{"labelFont":"DejaVu Sans"}
}
}
